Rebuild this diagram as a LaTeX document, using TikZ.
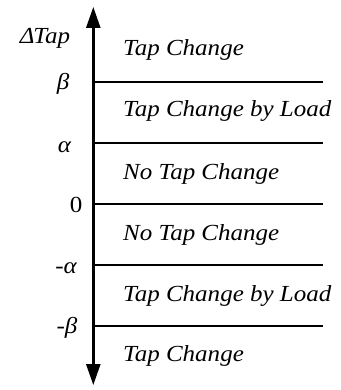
\documentclass[tikz,border=0pt]{standalone}
\usepackage{fontspec}
\setmainfont{Liberation Serif}
\usetikzlibrary{arrows.meta}
\tikzset{
  axisline/.style={line width=2.4pt, {Triangle[width=14pt,length=21pt]}-{Triangle[width=14pt,length=21pt]}},
  bound/.style={line width=2pt},
  txt/.style={inner sep=0pt, xscale=1.087, transform shape, font=\itshape\fontsize{23pt}{26pt}\selectfont},
  band/.style={txt, anchor=base west},
  level/.style={txt, anchor=base},
}
\begin{document}
\begin{tikzpicture}[x=1pt,y=-1pt]
\useasboundingbox (0,0) rectangle (340,390);
% vertical axis
\coordinate (ytop) at (93.3,7);
\coordinate (ybot) at (93.3,385);
\draw[axisline] (ybot) -- (ytop);
% thresholds
\foreach \n/\y in {b/82,a/143,z/204,ma/265,mb/326}{
  \coordinate (\n l) at (93.3,\y);
  \coordinate (\n r) at (323,\y);
  \draw[bound] (\n l) -- (\n r);
}
% level labels
\node[level] (dtap) at (45,44) {Δ\kern-0.05em Tap};
\node[level] (lb) at (63,90) {β};
\node[level] (la) at (64.5,153) {α};
\node[level, font=\fontsize{23pt}{26pt}\selectfont] (l0) at (76,212) {0};
\node[level] (lma) at (66,273) {-α};
\node[level] (lmb) at (67,333) {-β};
% band descriptions
\node[band] (t1) at (123,56) {Tap Change};
\node[band] (t2) at (123,117) {Tap Change by Load};
\node[band] (t3) at (123,179) {No Tap Change};
\node[band] (t4) at (123,240) {No Tap Change};
\node[band] (t5) at (123,301) {Tap Change by Load};
\node[band] (t6) at (123,361) {Tap Change};
\end{tikzpicture}
\end{document}
